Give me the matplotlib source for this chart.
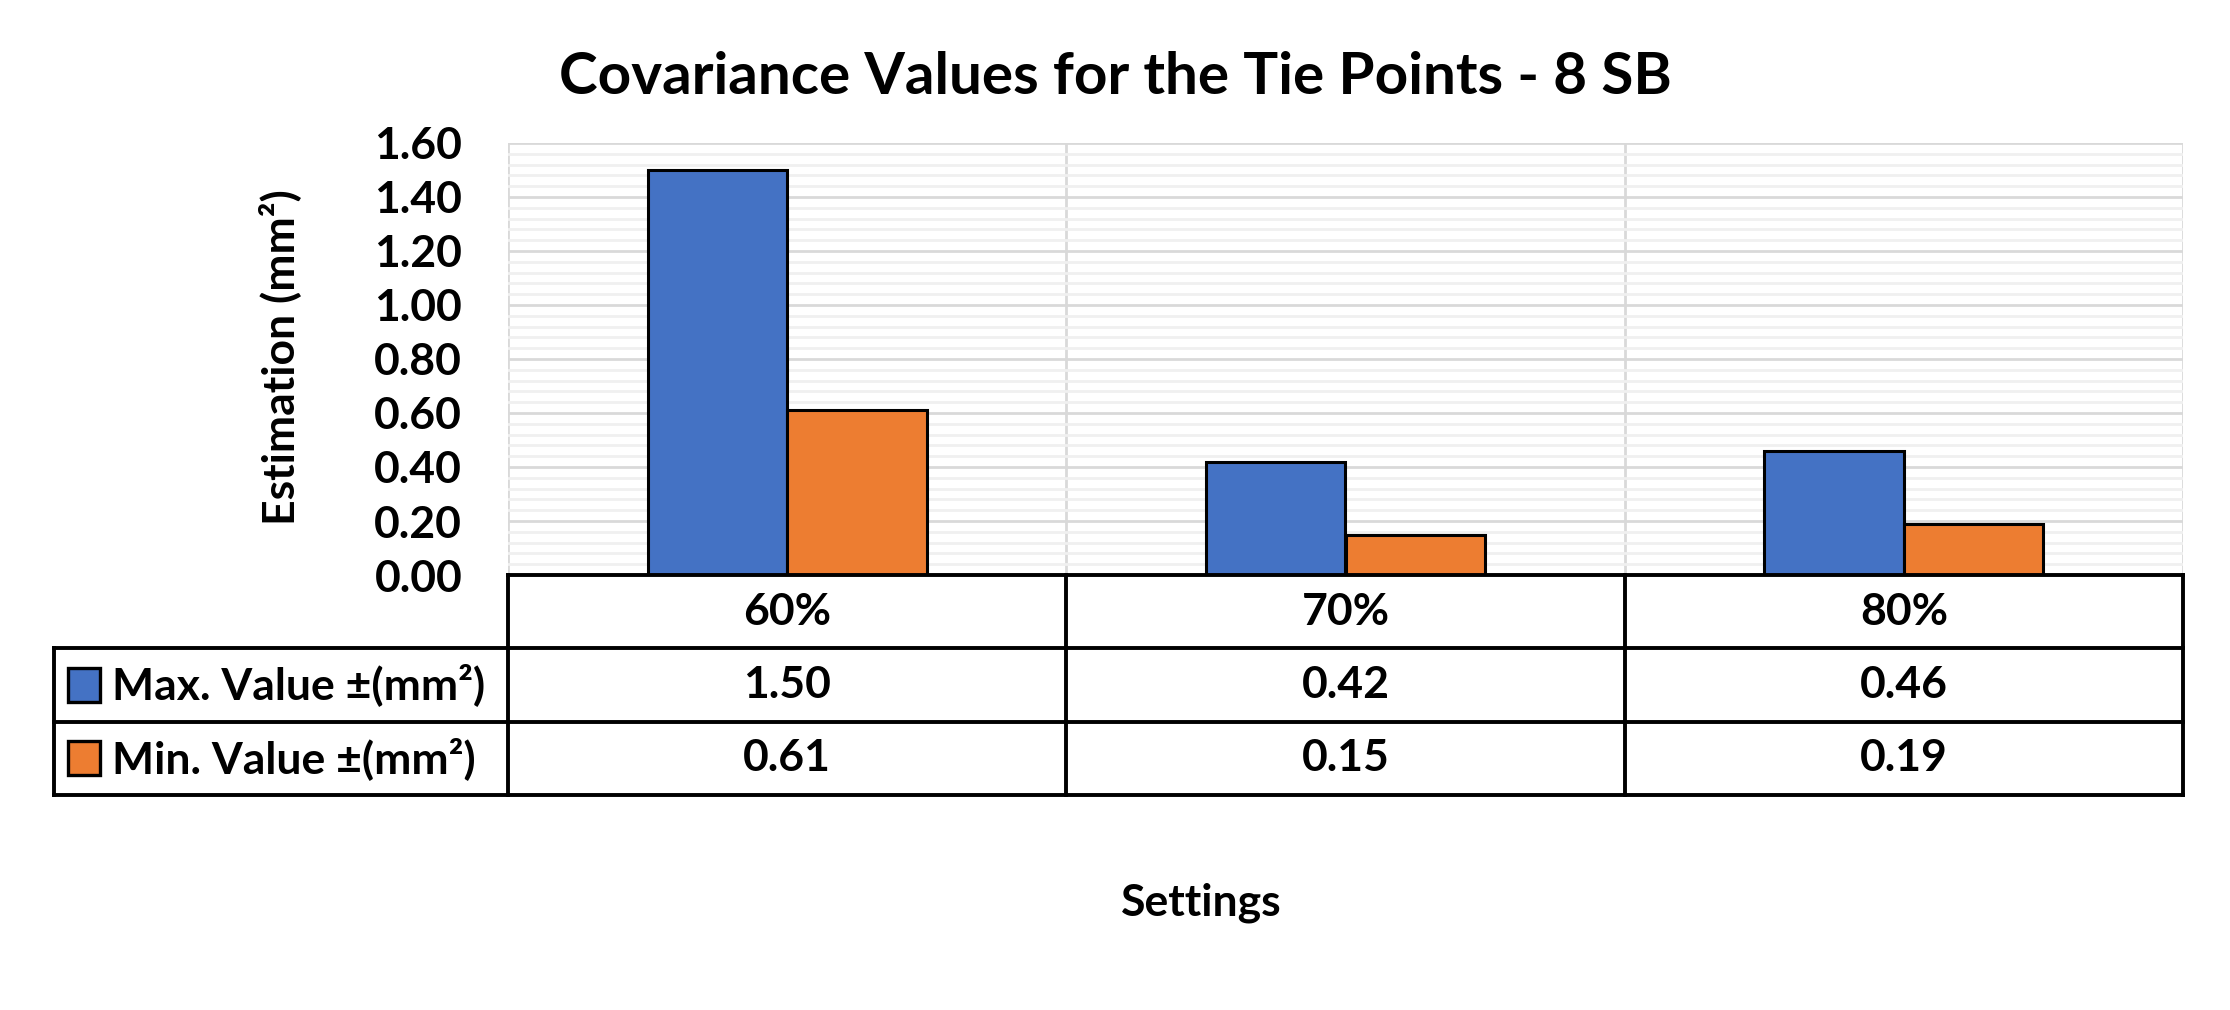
import numpy as np
import matplotlib
matplotlib.use('Agg')
import matplotlib.pyplot as plt
from matplotlib.patches import Rectangle
from matplotlib.ticker import MultipleLocator, FormatStrFormatter

plt.rcParams['font.family'] = ['Lato', 'DejaVu Sans']
plt.rcParams['font.weight'] = 'bold'

# Data
settings = ['60%', '70%', '80%']
max_values = [1.50, 0.42, 0.46]
min_values = [0.61, 0.15, 0.19]
series_names = ['Max. Value ±(mm²)', 'Min. Value ±(mm²)']
colors = ['#4472C4', '#ED7D31']

W, H = 2230, 1010
fig = plt.figure(figsize=(W / 100, H / 100), dpi=100)


def box(l, t, r, b):
    # pixel box -> figure fraction
    return [l / W, 1 - b / H, (r - l) / W, (b - t) / H]


# Bar chart area
ax = fig.add_axes(box(508, 143, 2183, 575))
x = np.arange(len(settings)) + 0.5
bw = 0.25
ax.bar(x - bw / 2, max_values, bw, color=colors[0], edgecolor='black', linewidth=2.2, zorder=3)
ax.bar(x + bw / 2, min_values, bw, color=colors[1], edgecolor='black', linewidth=2.2, zorder=3)

ax.set_xlim(0, len(settings))
ax.set_ylim(0, 1.6)
ax.yaxis.set_major_locator(MultipleLocator(0.2))
ax.yaxis.set_minor_locator(MultipleLocator(0.04))
ax.yaxis.set_major_formatter(FormatStrFormatter('%.2f'))
ax.set_xticks(np.arange(len(settings) + 1))
ax.grid(which='major', axis='both', color='#d9d9d9', linewidth=2, zorder=0)
ax.grid(which='minor', axis='y', color='#f0f0f0', linewidth=2, zorder=0)
ax.tick_params(axis='x', labelbottom=False, length=0)
ax.tick_params(axis='y', which='both', length=0, labelsize=32, pad=33)
for s in ax.spines.values():
    s.set_visible(False)

# Data table below the bars
unit = (2183 - 508) / len(settings)
left = (54 - 508) / unit
tab = fig.add_axes(box(54, 575, 2183, 795))
tab.set_xlim(left, len(settings))
tab.set_ylim(3, 0)
tab.axis('off')

lw = 2.8
tab.plot([0, 3], [0, 0], color='black', lw=lw, clip_on=False, solid_capstyle='projecting')
for r in [1, 2, 3]:
    tab.plot([left, 3], [r, r], color='black', lw=lw, clip_on=False, solid_capstyle='projecting')
tab.plot([left, left], [1, 3], color='black', lw=lw, clip_on=False, solid_capstyle='projecting')
for c in range(len(settings) + 1):
    tab.plot([c, c], [0, 3], color='black', lw=lw, clip_on=False, solid_capstyle='projecting')

for i, s in enumerate(settings):
    tab.text(i + 0.5, 0.5, s, ha='center', va='center', fontsize=32)
    tab.text(i + 0.5, 1.5, '%.2f' % max_values[i], ha='center', va='center', fontsize=32)
    tab.text(i + 0.5, 2.5, '%.2f' % min_values[i], ha='center', va='center', fontsize=32)

sw_l = (68 - 508) / unit
sw_w = 32 / unit
sw_h = 34 / 74
for r, (name, col) in enumerate(zip(series_names, colors)):
    tab.add_patch(Rectangle((sw_l, r + 1.5 - sw_h / 2), sw_w, sw_h, facecolor=col,
                            edgecolor='black', linewidth=2.4, clip_on=False))
    tab.text((112 - 508) / unit, r + 1.5, name, ha='left', va='center', fontsize=32)

# Titles
fig.text(1115 / W, 1 - 78 / H, 'Covariance Values for the Tie Points - 8 SB',
         ha='center', va='center', fontsize=42)
fig.text(280 / W, 1 - 357 / H, 'Estimation (mm²)', rotation=90,
         ha='center', va='center', fontsize=32)
fig.text(1201 / W, 1 - 903 / H, 'Settings', ha='center', va='center', fontsize=32)

fig.savefig('out.png', dpi=100, facecolor='white')
